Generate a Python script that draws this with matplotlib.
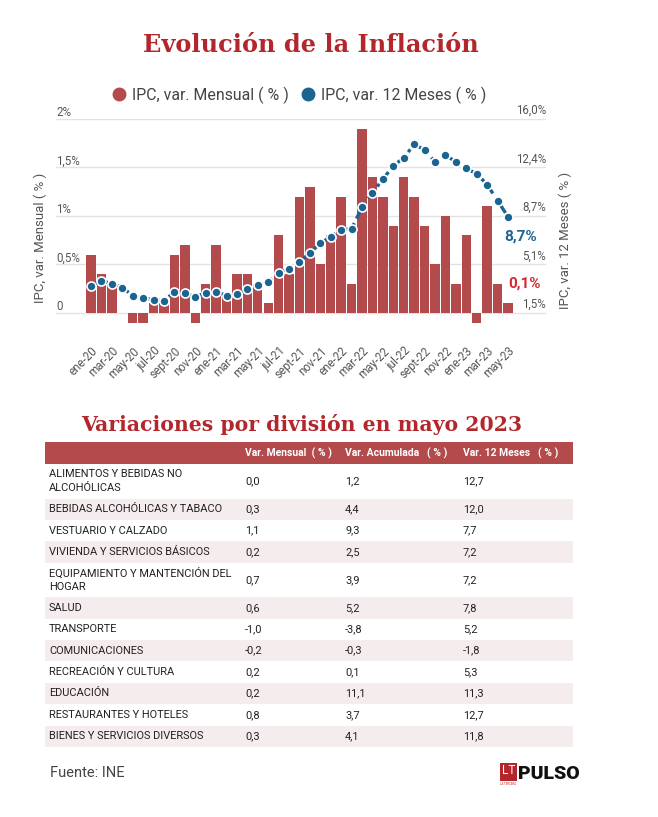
import matplotlib.pyplot as plt
from matplotlib.lines import Line2D
from matplotlib.patches import Rectangle

# data: monthly CPI change and 12-month CPI change, Jan 2020 - May 2023
months = ["ene-20", "feb-20", "mar-20", "abr-20", "may-20", "jun-20", "jul-20", "ago-20", "sept-20", "oct-20", "nov-20", "dic-20",
          "ene-21", "feb-21", "mar-21", "abr-21", "may-21", "jun-21", "jul-21", "ago-21", "sept-21", "oct-21", "nov-21", "dic-21",
          "ene-22", "feb-22", "mar-22", "abr-22", "may-22", "jun-22", "jul-22", "ago-22", "sept-22", "oct-22", "nov-22", "dic-22",
          "ene-23", "feb-23", "mar-23", "abr-23", "may-23"]
var_mensual = [0.6, 0.4, 0.3, 0.0, -0.1, -0.1, 0.1, 0.1, 0.6, 0.7, -0.1, 0.3,
               0.7, 0.2, 0.4, 0.4, 0.3, 0.1, 0.8, 0.4, 1.2, 1.3, 0.5, 0.8,
               1.2, 0.3, 1.9, 1.4, 1.2, 0.9, 1.4, 1.2, 0.9, 0.5, 1.0, 0.3,
               0.8, -0.1, 1.1, 0.3, 0.1]
var_12m = [3.5, 3.9, 3.7, 3.4, 2.8, 2.6, 2.5, 2.4, 3.1, 3.0, 2.7, 3.0,
           3.1, 2.8, 2.9, 3.3, 3.6, 3.8, 4.5, 4.8, 5.3, 6.0, 6.7, 7.2,
           7.7, 7.8, 9.4, 10.5, 11.5, 12.5, 13.1, 14.1, 13.7, 12.8, 13.3, 12.8,
           12.3, 11.9, 11.1, 9.9, 8.7]

left_ticks = [0, 0.5, 1, 1.5, 2]
left_labels = ["0", "0,5%", "1%", "1,5%", "2%"]
right_ticks = [1.5, 5.125, 8.75, 12.375, 16.0]
right_labels = ["1,5%", "5,1%", "8,7%", "12,4%", "16,0%"]

divisiones = ["ALIMENTOS Y BEBIDAS NO\nALCOHÓLICAS", "BEBIDAS ALCOHÓLICAS Y TABACO", "VESTUARIO Y CALZADO",
              "VIVIENDA Y SERVICIOS BÁSICOS", "EQUIPAMIENTO Y MANTENCIÓN DEL\nHOGAR", "SALUD", "TRANSPORTE",
              "COMUNICACIONES", "RECREACIÓN Y CULTURA", "EDUCACIÓN", "RESTAURANTES Y HOTELES",
              "BIENES Y SERVICIOS DIVERSOS"]
tab_mensual = ["0,0", "0,3", "1,1", "0,2", "0,7", "0,6", "-1,0", "-0,2", "0,2", "0,2", "0,8", "0,3"]
tab_acumulada = ["1,2", "4,4", "9,3", "2,5", "3,9", "5,2", "-3,8", "-0,3", "0,1", "11,1", "3,7", "4,1"]
tab_12m = ["12,7", "12,0", "7,7", "7,2", "7,2", "7,8", "5,2", "-1,8", "5,3", "11,3", "12,7", "11,8"]
headers = ["Var. Mensual  ( % )", "Var. Acumulada   ( % )", "Var. 12 Meses   ( % )"]

RED = "#b34a4c"
BLUE = "#1b6391"
TITLE_RED = "#b3262c"
GRAY = "#555555"

W, H = 658, 817
plt.rcParams['font.family'] = ['Roboto', 'DejaVu Sans']
fig = plt.figure(figsize=(W / 100, H / 100), dpi=100)


def fx(px):
    return px / W


def fy(py):
    return 1 - py / H


fig.text(fx(311), fy(45), "Evolución de la Inflación", ha="center", va="center",
         fontsize=17.3, fontweight="bold", color=TITLE_RED, family="DejaVu Serif")

# chart axes
x0, x1, ytop, ybot = 56, 546, 119, 325
ax = fig.add_axes([fx(x0), fy(ybot), fx(x1 - x0), (ybot - ytop) / H])
ax2 = ax.twinx()
lo = -12 / 96.6
ax.set_ylim(lo, 2.0)
ax2.set_ylim(1.5 + lo * 7.25, 16.0)
n = len(months)
xs = list(range(n))
ax.set_xlim(-3.36, n - 1 + 3.65)

ax.bar(xs, var_mensual, width=0.9, color=RED, zorder=2)
ax2.plot(xs, var_12m, color=BLUE, lw=2.4, ls=(0, (3, 1.5, 1, 1.5)), marker="o", ms=6.5,
         mfc=BLUE, mec="white", mew=1.2, zorder=3)

for a in (ax, ax2):
    for s in a.spines.values():
        s.set_visible(False)
    a.set_yticks([])
    a.tick_params(length=0)
for t, lab in zip(left_ticks, left_labels):
    ax.axhline(t, color="#e3e3e3", lw=1, zorder=0)
    ax.text(0, t, lab, transform=ax.get_yaxis_transform(), ha="left", va="bottom",
            fontsize=8.3, color=GRAY)
for t, lab in zip(right_ticks, right_labels):
    ax2.text(1, t + 0.15, lab, transform=ax2.get_yaxis_transform(), ha="right", va="bottom",
             fontsize=8.3, color=GRAY, zorder=1)

ax.set_xticks(xs[::2])
ax.set_xticklabels(months[::2], rotation=45, ha="right", rotation_mode="anchor",
                   fontsize=8.3, color=GRAY)
ax.tick_params(axis="x", pad=14)

ax2.annotate("8,7%", (xs[-1], var_12m[-1]), xytext=(9, -14), textcoords="offset points",
             ha="center", va="center", fontsize=11, fontweight="bold", color=BLUE)
ax.annotate("0,1%", (xs[-1], var_mensual[-1]), xytext=(12, 14), textcoords="offset points",
            ha="center", va="center", fontsize=11, fontweight="bold", color="#d7282f", zorder=5)

fig.text(fx(40), fy(238), "IPC, var. Mensual ( % )", rotation=90, ha="center", va="center",
         fontsize=9.5, color=GRAY)
fig.text(fx(565), fy(240), "IPC, var. 12 Meses ( % )", rotation=90, ha="center", va="center",
         fontsize=9.5, color=GRAY)

handles = [Line2D([], [], ls="", marker="o", ms=9, color=RED),
           Line2D([], [], ls="", marker="o", ms=9, color=BLUE)]
fig.legend(handles, ["IPC, var. Mensual ( % )", "IPC, var. 12 Meses ( % )"], ncol=2,
           loc="center", bbox_to_anchor=(fx(298), fy(95)), frameon=False, fontsize=11.4,
           handletextpad=0.2, columnspacing=0.6, handlelength=1.2, labelcolor="#444444")

# table
fig.text(fx(302), fy(424), "Variaciones por división en mayo 2023", ha="center", va="center",
         fontsize=14.7, fontweight="bold", color=TITLE_RED, family="DejaVu Serif")
tx0, tx1 = 45, 573
col_x = [49, 245, 345, 463]
top = 442
hh = 22
fig.add_artist(Rectangle((fx(tx0), fy(top + hh)), fx(tx1 - tx0), hh / H, color=RED, lw=0))
for cx, h in zip(col_x[1:], headers):
    fig.text(fx(cx), fy(top + hh / 2), h, ha="left", va="center", fontsize=7.5,
             fontweight="bold", color="white")
y = top + hh
for i, name in enumerate(divisiones):
    rh = 34.5 if "\n" in name else 21.4
    if i % 2 == 1:
        fig.add_artist(Rectangle((fx(tx0), fy(y + rh)), fx(tx1 - tx0), rh / H,
                                 color="#f5eced", lw=0))
    vals = [name, tab_mensual[i], tab_acumulada[i], tab_12m[i]]
    for cx, v in zip(col_x, vals):
        fig.text(fx(cx), fy(y + rh / 2), v, ha="left", va="center", fontsize=7.9,
                 color="#222222", linespacing=1.45)
    y += rh

fig.text(fx(50), fy(773), "Fuente: INE", ha="left", va="center", fontsize=10.5, color="#444444")

# logo
fig.add_artist(Rectangle((fx(500), fy(781)), fx(17), 18 / H, color="#b3262c", lw=0))
fig.text(fx(508.5), fy(771), "LT", ha="center", va="center", fontsize=8.5, color="white")
fig.text(fx(500), fy(784), "LA TERCERA", ha="left", va="center", fontsize=2, color="#b3262c")
fig.text(fx(518), fy(774), "PULSO", ha="left", va="center", fontsize=14, fontweight="black",
         color="#111111")

fig.savefig("out.png", dpi=100)
